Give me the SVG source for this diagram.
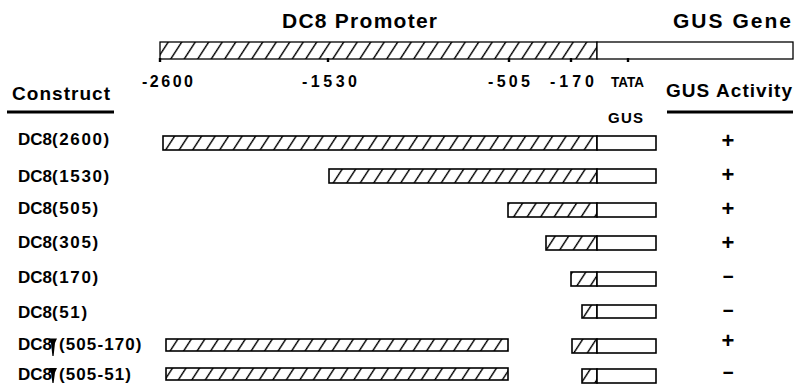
<svg xmlns="http://www.w3.org/2000/svg" width="794" height="384" viewBox="0 0 794 384">
<style>
text{font-family:"Liberation Sans",Arial,sans-serif;font-weight:bold;fill:#000}
.ttl{font-size:21px}
.hdr{font-size:19px}
.tick{font-size:16px}
.lbl{font-size:17px}
.arg{letter-spacing:1.6px}
.arg2{letter-spacing:1.1px}
.sym{font-size:22px;text-anchor:middle}
.mn{font-size:19px;text-anchor:middle}
.h{fill:url(#hatch);stroke:#000;stroke-width:1.6}
.w{fill:#fff;stroke:#000;stroke-width:1.6}
.ht{fill:url(#hatch);stroke:#000;stroke-width:1.3}
.wt{fill:#fff;stroke:#000;stroke-width:1.3}
</style>
<defs>
<pattern id="hatch" patternUnits="userSpaceOnUse" width="13.5" height="20" patternTransform="skewX(-33)">
<rect width="13.5" height="20" fill="#fff"/>
<line x1="6.5" y1="-2" x2="6.5" y2="22" stroke="#000" stroke-width="1.7"/>
</pattern>
</defs>
<rect width="794" height="384" fill="#fff"/>

<g id="header">
<text class="ttl" x="282" y="28" textLength="155" lengthAdjust="spacing">DC8 Promoter</text>
<text class="ttl" x="673" y="28" textLength="118" lengthAdjust="spacing">GUS Gene</text>
<rect class="ht" x="160" y="42" width="437" height="17"/>
<rect class="wt" x="597" y="42" width="196" height="17"/>
<g stroke="#000" stroke-width="2.4">
<line x1="160" y1="58" x2="160" y2="62"/>
<line x1="328" y1="58" x2="328" y2="62"/>
<line x1="509" y1="58" x2="509" y2="62"/>
<line x1="571" y1="58" x2="571" y2="62"/>
<line x1="628" y1="58" x2="628" y2="62"/>
</g>
<text class="tick" x="142" y="87" textLength="51" lengthAdjust="spacing">-2600</text>
<text class="tick" x="302" y="87" textLength="55" lengthAdjust="spacing">-1530</text>
<text class="tick" x="488" y="87" textLength="42" lengthAdjust="spacing">-505</text>
<text class="tick" x="550" y="87" textLength="44" lengthAdjust="spacing">-170</text>
<text x="611" y="87" font-size="14" textLength="33" lengthAdjust="spacingAndGlyphs">TATA</text>
<text class="hdr" x="12" y="100" textLength="98" lengthAdjust="spacing">Construct</text>
<rect x="7" y="110.5" width="107" height="3" fill="#000"/>
<text class="hdr" x="666" y="97" textLength="126" lengthAdjust="spacing">GUS Activity</text>
<rect x="667" y="110.5" width="126" height="3" fill="#000"/>
<text x="608" y="123" font-size="15" textLength="35" lengthAdjust="spacing">GUS</text>
</g>

<g id="row1">
<text class="lbl" x="18" y="145">DC8<tspan class="arg">(2600)</tspan></text>
<rect class="h" x="163" y="136" width="434" height="14"/>
<rect class="w" x="597" y="136" width="59" height="14"/>
<text class="sym" x="728" y="148">+</text>
</g>
<g id="row2">
<text class="lbl" x="18" y="182">DC8<tspan class="arg">(1530)</tspan></text>
<rect class="h" x="329" y="169" width="268" height="14"/>
<rect class="w" x="597" y="169" width="59" height="14"/>
<text class="sym" x="728" y="182">+</text>
</g>
<g id="row3">
<text class="lbl" x="18" y="214">DC8<tspan class="arg">(505)</tspan></text>
<rect class="h" x="508" y="203" width="89" height="14"/>
<rect class="w" x="597" y="203" width="59" height="14"/>
<text class="sym" x="728" y="216">+</text>
</g>
<g id="row4">
<text class="lbl" x="18" y="248">DC8<tspan class="arg">(305)</tspan></text>
<rect class="h" x="546" y="236" width="51" height="14"/>
<rect class="w" x="597" y="236" width="59" height="14"/>
<text class="sym" x="728" y="250">+</text>
</g>
<g id="row5">
<text class="lbl" x="18" y="283">DC8<tspan class="arg">(170)</tspan></text>
<rect class="h" x="571" y="272" width="26" height="14"/>
<rect class="w" x="597" y="272" width="59" height="14"/>
<text class="mn" x="728" y="283">−</text>
</g>
<g id="row6">
<text class="lbl" x="18" y="318">DC8<tspan class="arg">(51)</tspan></text>
<rect class="h" x="582" y="305" width="15" height="13"/>
<rect class="w" x="597" y="305" width="59" height="13"/>
<text class="mn" x="728" y="317">−</text>
</g>
<g id="row7">
<text class="lbl" x="18" y="350">DC8<tspan class="arg2" x="59">(505-170)</tspan></text>
<path d="M49,338.5 L57,338.5 L55,343 L53.6,356 L52.4,356 L51,343 Z" fill="#000"/>
<rect class="h" x="166" y="339" width="342" height="12"/>
<rect class="h" x="572" y="339" width="25" height="14"/>
<rect class="w" x="597" y="339" width="59" height="14"/>
<text class="sym" x="728" y="348">+</text>
</g>
<g id="row8">
<text class="lbl" x="18" y="380">DC8<tspan class="arg2" x="59">(505-51)</tspan></text>
<path d="M49,368 L57,368 L55,372.5 L53.6,383 L52.4,383 L51,372.5 Z" fill="#000"/>
<rect class="h" x="166" y="368" width="342" height="12"/>
<rect class="h" x="582" y="369" width="15" height="14"/>
<rect class="w" x="597" y="369" width="59" height="14"/>
<text class="mn" x="728" y="379">−</text>
</g>
</svg>
